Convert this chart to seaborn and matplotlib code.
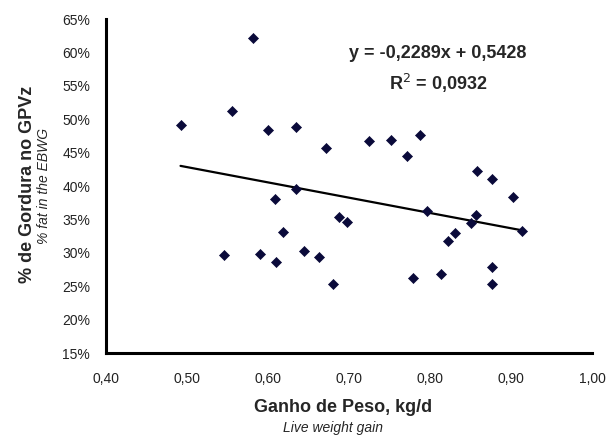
import numpy as np
import pandas as pd
import matplotlib
matplotlib.use("Agg")
import matplotlib.pyplot as plt
import seaborn as sns
from matplotlib.ticker import FuncFormatter, MultipleLocator

# Data
ganho_peso = [0.492, 0.581, 0.555, 0.600, 0.635, 0.672, 0.635, 0.609, 0.725, 0.752,
              0.787, 0.771, 0.858, 0.876, 0.903, 0.688, 0.697, 0.618, 0.546, 0.590,
              0.610, 0.645, 0.663, 0.680, 0.796, 0.857, 0.851, 0.914, 0.831, 0.822,
              0.779, 0.813, 0.876, 0.876]
gordura = [0.492, 0.621, 0.512, 0.484, 0.488, 0.457, 0.396, 0.380, 0.467, 0.469,
           0.476, 0.445, 0.422, 0.410, 0.383, 0.354, 0.346, 0.331, 0.297, 0.299,
           0.286, 0.303, 0.294, 0.253, 0.363, 0.356, 0.344, 0.333, 0.329, 0.318,
           0.262, 0.269, 0.279, 0.254]
slope = -0.2289
intercept = 0.5428
r2 = 0.0932

df = pd.DataFrame({"x": ganho_peso, "y": gordura})
xs = np.array([min(ganho_peso), max(ganho_peso)])
fit = pd.DataFrame({"x": xs, "y": slope * xs + intercept})

sns.set_style("white")
plt.rcParams["font.family"] = ["Liberation Sans", "DejaVu Sans"]

fig = plt.figure(figsize=(6.11, 4.38), dpi=100)
ax = fig.add_axes([0.1735, 0.194, 0.7955, 0.7625])

sns.lineplot(data=fit, x="x", y="y", ax=ax, color="black", linewidth=1.6)
sns.scatterplot(data=df, x="x", y="y", ax=ax, marker="D", s=26,
                color="#0a0a3a", edgecolor="#0a0a3a", linewidth=0.5, zorder=3)

ax.set_xlim(0.40, 1.00)
ax.set_ylim(0.15, 0.65)
ax.xaxis.set_major_locator(MultipleLocator(0.10))
ax.yaxis.set_major_locator(MultipleLocator(0.05))
ax.xaxis.set_major_formatter(FuncFormatter(lambda v, p: f"{v:.2f}".replace(".", ",")))
ax.yaxis.set_major_formatter(FuncFormatter(lambda v, p: f"{v*100:.0f}%"))

for s in ["top", "right"]:
    ax.spines[s].set_visible(False)
for s in ["left", "bottom"]:
    ax.spines[s].set_linewidth(2.2)
    ax.spines[s].set_color("black")
ax.tick_params(axis="both", direction="inout", length=7, width=2, color="black",
               labelsize=10, labelcolor="#222222")
ax.tick_params(axis="x", pad=10)
ax.tick_params(axis="y", pad=8)

ax.set_xlabel("")
ax.set_ylabel("")
fig.text(343 / 611, 1 - 408 / 438, "Ganho de Peso, kg/d", ha="center", va="center",
         fontsize=13, fontweight="bold")
fig.text(333 / 611, 1 - 428 / 438, "Live weight gain", ha="center", va="center",
         fontsize=10, style="italic")
fig.text(28 / 611, 1 - 184 / 438, "% de Gordura no GPVz", ha="center", va="center",
         rotation=90, fontsize=13, fontweight="bold")
fig.text(44 / 611, 1 - 186 / 438, "% fat in the EBWG", ha="center", va="center",
         rotation=90, fontsize=10, style="italic")

ax.text(0.81, 0.599, "y = -0,2289x + 0,5428", ha="center", va="center",
        fontsize=13, fontweight="bold")
ax.text(0.81, 0.554, "R$^{2}$ = 0,0932", ha="center", va="center",
        fontsize=13, fontweight="bold")

fig.savefig("out.png", dpi=100)
